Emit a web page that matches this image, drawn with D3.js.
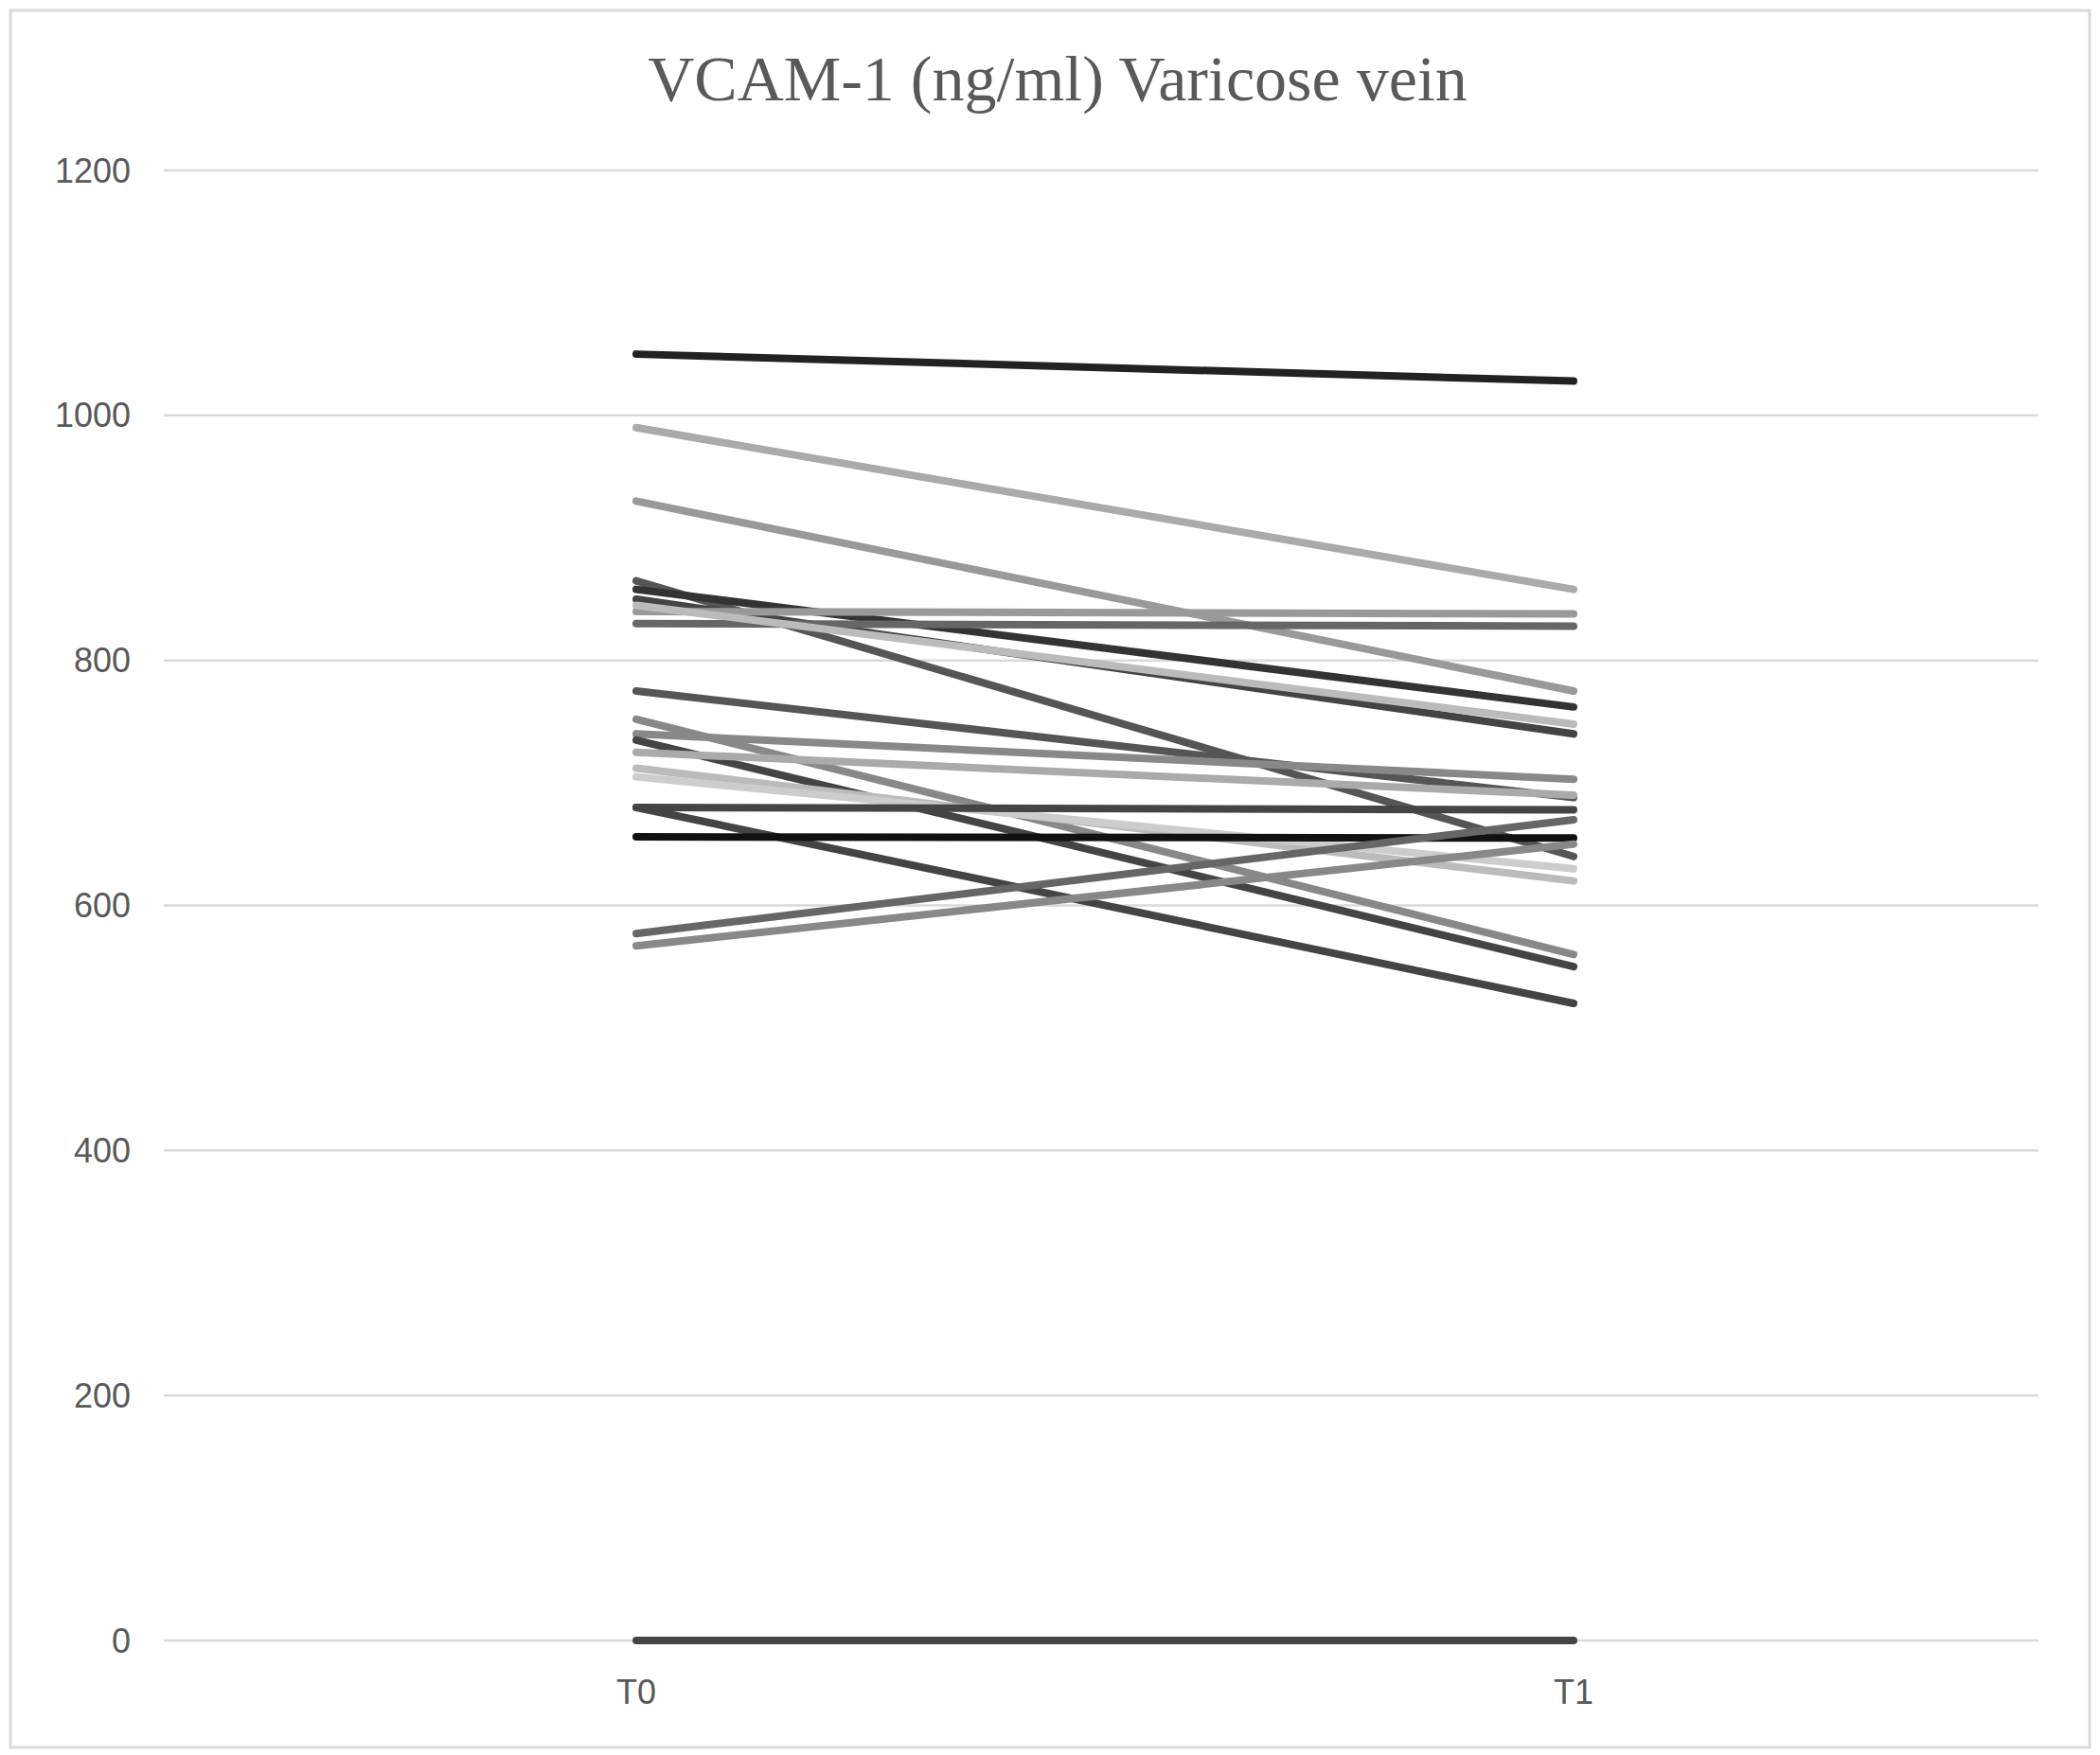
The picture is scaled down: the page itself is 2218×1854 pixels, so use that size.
<!DOCTYPE html>
<html><head><meta charset="utf-8">
<script src="https://cdn.jsdelivr.net/npm/d3@7"></script>
<style>body{margin:0;background:#fff}</style>
</head><body>
<script>
var categories = ["T0", "T1"];
var t0Values = [1050, 990, 930, 865, 858, 850, 840, 830, 845, 775, 752, 740, 735, 725, 712, 705, 680, 680, 656, 577, 567, 0];
var t1Values = [1028, 858, 775, 640, 762, 740, 838, 828, 748, 688, 560, 703, 550, 690, 620, 630, 678, 520, 655, 670, 650, 0];
var lineColors = ["#222", "#aaa", "#999", "#555", "#333", "#444", "#999", "#666", "#bbb", "#555", "#888", "#888", "#444", "#aaa", "#bbb", "#ccc", "#444", "#444", "#111", "#666", "#888", "#444"];
var yTicks = [0, 200, 400, 600, 800, 1000, 1200];

var W = 2218, H = 1854;
var svg = d3.select("body").append("svg").attr("width", W).attr("height", H);

svg.append("rect").attr("x", 11).attr("y", 11).attr("width", 2196).attr("height", 1835)
    .attr("fill", "#fff").attr("stroke", "#d9d9d9").attr("stroke-width", 3);

var x = d3.scalePoint().domain(categories).range([672, 1662]);
var y = d3.scaleLinear().domain([0, 1200]).range([1733, 180]);

// gridlines
svg.selectAll(".grid").data(yTicks).enter().append("line")
    .attr("x1", 173).attr("x2", 2153)
    .attr("y1", function(d) { return y(d); })
    .attr("y2", function(d) { return y(d); })
    .attr("stroke", "#d9d9d9").attr("stroke-width", 2.5);

svg.selectAll(".ylab").data(yTicks).enter().append("text")
    .attr("x", 138).attr("y", function(d) { return y(d); })
    .attr("dy", "0.35em").attr("text-anchor", "end")
    .style("font-family", "Liberation Sans, Arial, sans-serif").style("font-size", "36px")
    .style("fill", "#595959")
    .text(function(d) { return d; });

svg.selectAll(".xlab").data(categories).enter().append("text")
    .attr("x", function(d) { return x(d); }).attr("y", 1800)
    .attr("text-anchor", "middle")
    .style("font-family", "Liberation Sans, Arial, sans-serif").style("font-size", "36px")
    .style("fill", "#595959")
    .text(function(d) { return d; });

svg.append("text").attr("x", 1117).attr("y", 106).attr("text-anchor", "middle")
    .style("font-family", "Liberation Serif, Times New Roman, serif").style("font-size", "68px")
    .style("fill", "#595959")
    .text("VCAM-1 (ng/ml) Varicose vein");

var line = d3.line().x(function(d) { return x(d[0]); }).y(function(d) { return y(d[1]); });
var pairs = t0Values.map(function(v, i) { return [["T0", v], ["T1", t1Values[i]]]; });

svg.selectAll(".series").data(pairs).enter().append("path")
    .attr("d", line)
    .attr("fill", "none")
    .attr("stroke", function(d, i) { return lineColors[i]; })
    .attr("stroke-width", 8)
    .attr("stroke-linecap", "round");
</script>
</body></html>
